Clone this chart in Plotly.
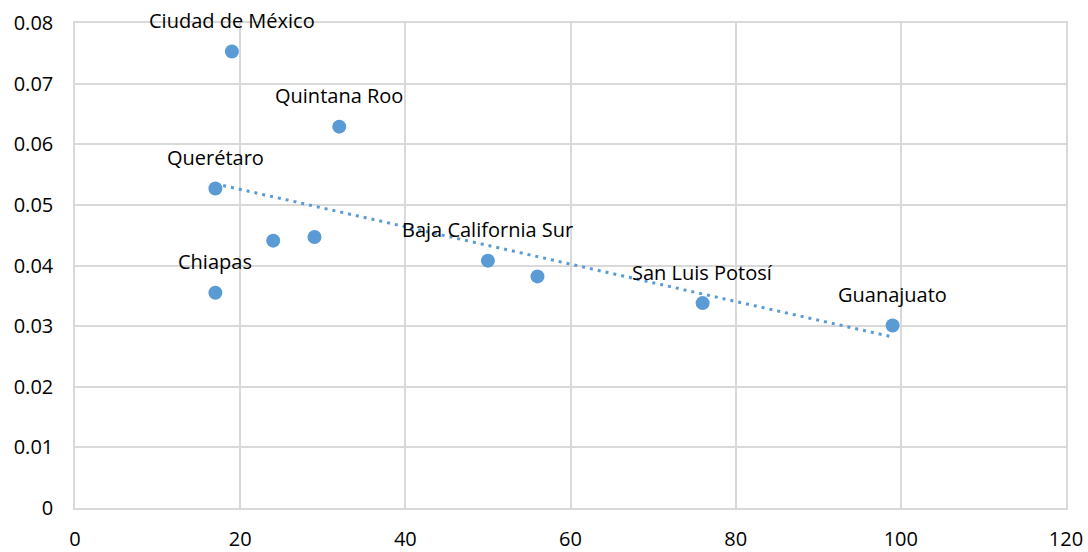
import numpy as np
import plotly.graph_objects as go

# datos
x_vals = [19, 32, 17, 24, 29, 17, 50, 56, 76, 99]
y_vals = [0.0753, 0.0629, 0.0527, 0.0441, 0.0447, 0.0355, 0.0408, 0.0382, 0.0338, 0.0301]
etiquetas = ["Ciudad de México", "Quintana Roo", "Querétaro", "", "", "Chiapas",
             "Baja California Sur", "", "San Luis Potosí", "Guanajuato"]

azul = "#5b9bd5"
gris = "#d9d9d9"

# línea de tendencia lineal (como en Excel)
m, b = np.polyfit(x_vals, y_vals, 1)
xt = [min(x_vals), max(x_vals)]
yt = [m * v + b for v in xt]

fig = go.Figure()
fig.add_trace(go.Scatter(x=xt, y=yt, mode="lines",
                         line=dict(color=azul, width=3, dash="3px,5px"),
                         hoverinfo="skip", showlegend=False))
fig.add_trace(go.Scatter(x=x_vals, y=y_vals, mode="markers",
                         marker=dict(color=azul, size=14),
                         showlegend=False))

for xv, yv, t in zip(x_vals, y_vals, etiquetas):
    if t:
        fig.add_annotation(x=xv, y=yv, text=t, showarrow=False, yshift=31,
                           font=dict(size=20, color="#000000"))

fig.update_layout(
    width=1088, height=552,
    margin=dict(l=75, r=22, t=23, b=44, autoexpand=False),
    plot_bgcolor="white", paper_bgcolor="white",
    font=dict(family="Open Sans, Noto Sans, sans-serif", size=20, color="#000000"),
)
fig.update_xaxes(range=[0, 120], dtick=20, showgrid=True, gridcolor=gris, gridwidth=1.5,
                 showline=True, linecolor=gris, linewidth=1.5, mirror=True,
                 zeroline=False, ticks="", ticklabelstandoff=12, automargin=False,
                 tickfont=dict(size=20))
fig.update_yaxes(range=[0, 0.08], dtick=0.01, showgrid=True, gridcolor=gris, gridwidth=1.5,
                 showline=True, linecolor=gris, linewidth=1.5, mirror=True,
                 zeroline=False, tickformat="~g", ticks="", ticklabelstandoff=16,
                 automargin=False, tickfont=dict(size=20))

# quitar el margen del body para que la gráfica quede en 0,0
fig.write_html("out.html", config={"displayModeBar": False},
               post_script="document.body.style.margin='0';")
